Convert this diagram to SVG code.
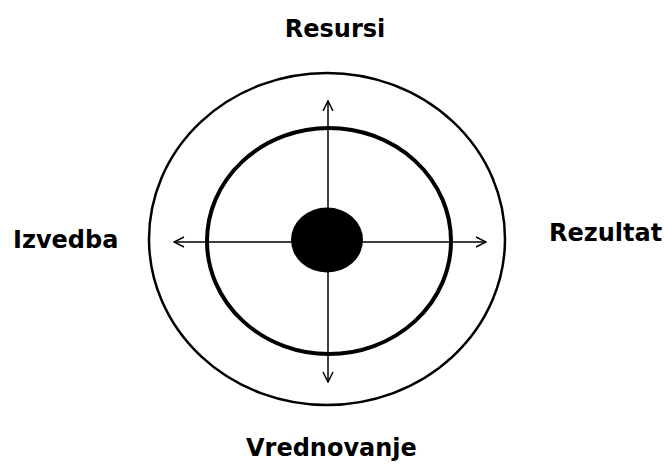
<svg xmlns="http://www.w3.org/2000/svg" width="664" height="464" viewBox="0 0 664 464">
<style>
.lbl{font-family:"DejaVu Sans",Verdana,sans-serif;font-weight:bold;font-size:24px;fill:#000}
.ax{stroke:#000;stroke-width:1.5;fill:none}
</style>
<defs>
<marker id="arr" viewBox="0 0 12 12" refX="11" refY="6" markerWidth="12" markerHeight="12" markerUnits="userSpaceOnUse" orient="auto">
<path d="M1,1 L11,6 L1,11" fill="none" stroke="#000" stroke-width="1.5"/>
</marker>
</defs>
<rect width="664" height="464" fill="#fff"/>
<g id="outer"><ellipse cx="327" cy="239" rx="178" ry="166" fill="none" stroke="#000" stroke-width="2.5"/></g>
<g id="inner"><ellipse cx="329" cy="241" rx="122" ry="113" fill="none" stroke="#000" stroke-width="4"/></g>
<g id="connectors">
<line class="ax" x1="328" y1="241" x2="328" y2="101" marker-end="url(#arr)"/>
<line class="ax" x1="328" y1="241" x2="328" y2="382" marker-end="url(#arr)"/>
<line class="ax" x1="328" y1="242" x2="174" y2="242" marker-end="url(#arr)"/>
<line class="ax" x1="328" y1="242" x2="486" y2="242" marker-end="url(#arr)"/>
</g>
<g id="core"><ellipse cx="327" cy="240" rx="36" ry="32.5" fill="#000"/></g>
<g id="resursi"><text class="lbl" x="335" y="37" text-anchor="middle">Resursi</text></g>
<g id="izvedba"><text class="lbl" x="13" y="248">Izvedba</text></g>
<g id="rezultat"><text class="lbl" x="549" y="241">Rezultat</text></g>
<g id="vrednovanje"><text class="lbl" x="246" y="456">Vrednovanje</text></g>
</svg>
